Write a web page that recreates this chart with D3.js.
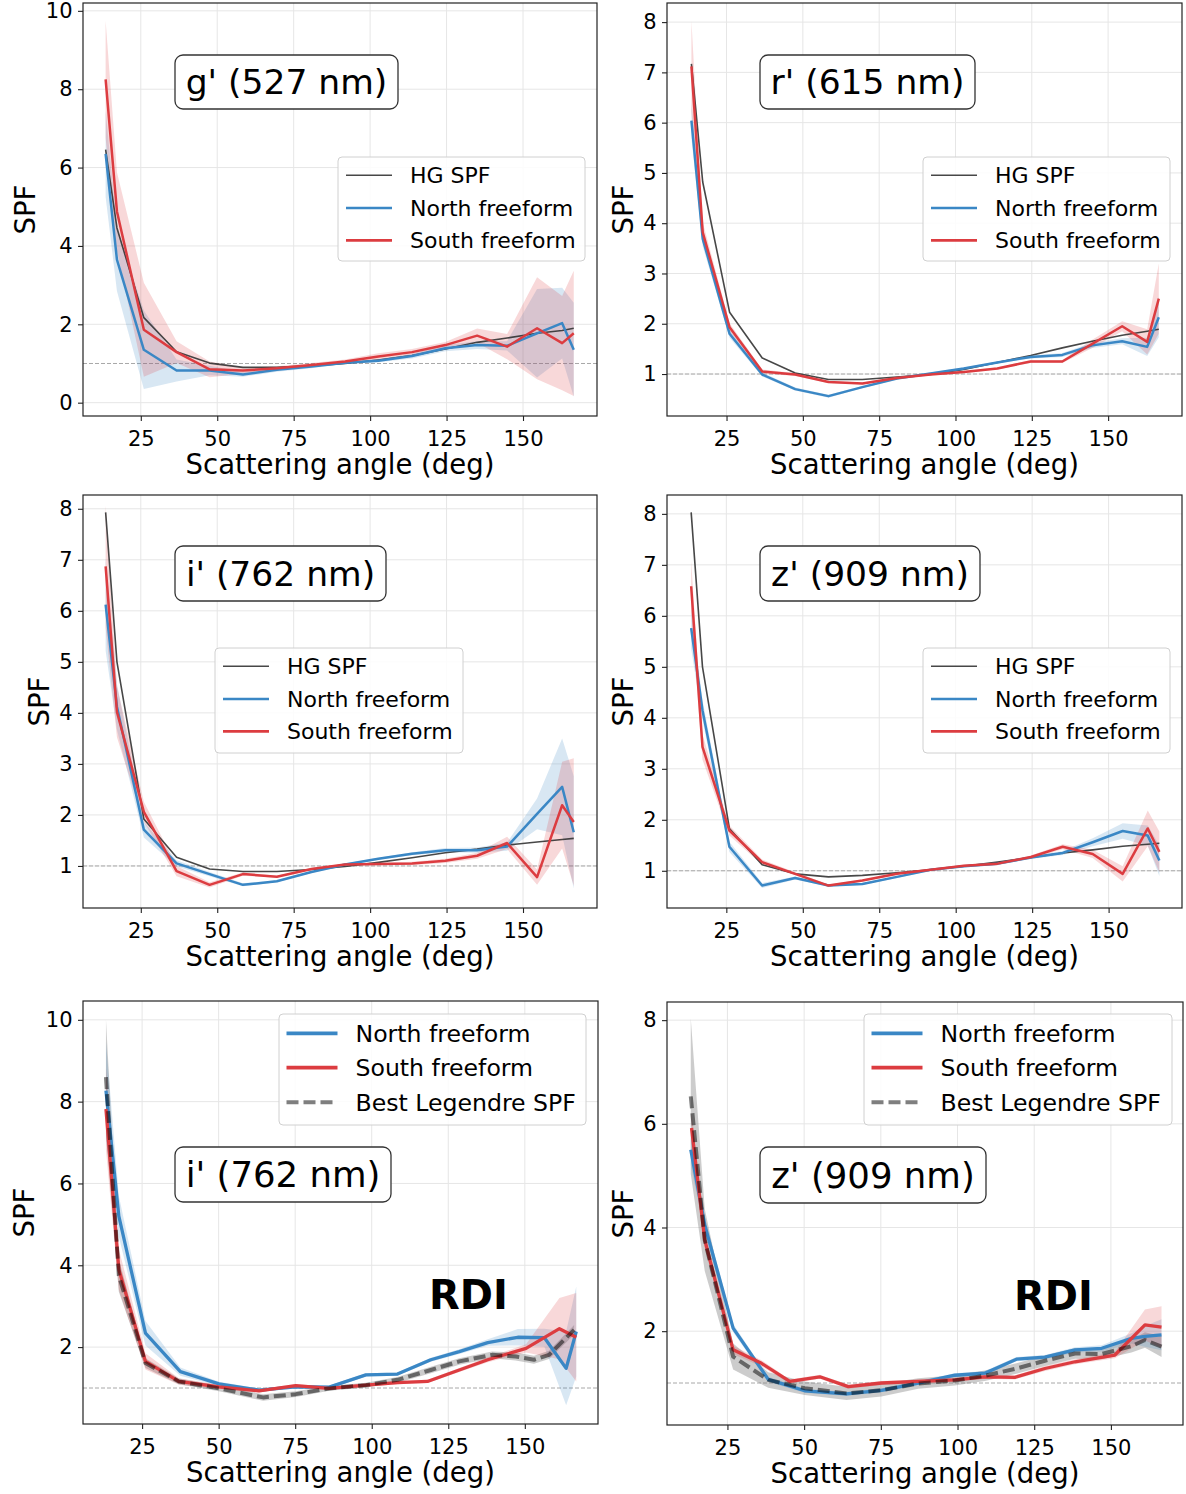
<!DOCTYPE html>
<html><head><meta charset="utf-8">
<script src="https://cdn.jsdelivr.net/npm/d3@7"></script>
<style>body{margin:0;background:#fff;} text{font-family:"DejaVu Sans",sans-serif;fill:#000;}</style>
</head><body><svg id="c" width="1186" height="1494"></svg>
<script>
// ---------------- DATA ----------------
const xTickValues = [25, 50, 75, 100, 125, 150];
const yTicksA = [0, 2, 4, 6, 8, 10];
const yTicksB = [1, 2, 3, 4, 5, 6, 7, 8];
const yTicksC = [2, 4, 6, 8, 10];
const yTicksD = [2, 4, 6, 8];

// scattering angles of the freeform bins (top four panels)
const anglesTop = [13.5, 17.2, 26, 36.7, 47.5, 58.4, 69.5, 80.8, 91.8, 102.7, 113.7, 124.6, 135, 144.8, 154.6, 162.8, 166.6];

// g' (527 nm)
const gHG        = [6.46, 4.46, 2.17, 1.30, 1.01, 0.90, 0.90, 0.94, 1.00, 1.09, 1.20, 1.37, 1.54, 1.65, 1.77, 1.84, 1.90];
const gNorth     = [6.35, 3.65, 1.35, 0.82, 0.82, 0.72, 0.84, 0.92, 1.02, 1.07, 1.19, 1.39, 1.47, 1.45, 1.77, 2.03, 1.35];
const gNorthErr  = [1.10, 0.80, 1.00, 0.28, 0.12, 0.06, 0.05, 0.04, 0.03, 0.04, 0.06, 0.08, 0.10, 0.12, 1.13, 0.90, 1.20];
const gSouth     = [8.25, 4.88, 1.86, 1.29, 0.85, 0.82, 0.88, 0.96, 1.05, 1.18, 1.29, 1.47, 1.71, 1.43, 1.90, 1.52, 1.77];
const gSouthErr  = [1.50, 1.00, 1.20, 0.28, 0.20, 0.08, 0.05, 0.05, 0.05, 0.08, 0.08, 0.08, 0.18, 0.32, 1.30, 1.20, 1.60];

// r' (615 nm)
const rHG        = [7.17, 4.82, 2.23, 1.32, 1.02, 0.89, 0.89, 0.94, 0.99, 1.09, 1.23, 1.37, 1.52, 1.65, 1.77, 1.85, 1.89];
const rNorth     = [6.04, 3.69, 1.80, 0.99, 0.70, 0.56, 0.74, 0.91, 1.01, 1.11, 1.23, 1.34, 1.38, 1.57, 1.65, 1.54, 2.13];
const rNorthErr  = [0.35, 0.15, 0.08, 0.04, 0.03, 0.03, 0.02, 0.02, 0.02, 0.02, 0.02, 0.03, 0.04, 0.05, 0.06, 0.18, 0.40];
const rSouth     = [7.12, 3.82, 1.93, 1.05, 0.99, 0.84, 0.81, 0.92, 0.99, 1.04, 1.11, 1.25, 1.25, 1.60, 1.95, 1.64, 2.50];
const rSouthErr  = [0.90, 0.20, 0.08, 0.04, 0.03, 0.02, 0.02, 0.02, 0.02, 0.02, 0.02, 0.03, 0.03, 0.08, 0.10, 0.25, 0.70];

// i' (762 nm)
const iHG        = [7.93, 5.00, 1.92, 1.17, 0.94, 0.89, 0.89, 0.93, 0.99, 1.07, 1.16, 1.26, 1.33, 1.41, 1.47, 1.52, 1.54];
const iNorth     = [6.12, 4.12, 1.71, 1.05, 0.84, 0.63, 0.70, 0.88, 1.03, 1.14, 1.24, 1.31, 1.31, 1.38, 2.02, 2.55, 1.66];
const iNorthErr  = [0.90, 0.45, 0.15, 0.06, 0.04, 0.03, 0.02, 0.02, 0.02, 0.02, 0.03, 0.04, 0.05, 0.08, 0.30, 0.95, 1.10];
const iSouth     = [6.87, 4.02, 2.06, 0.90, 0.63, 0.84, 0.79, 0.94, 1.03, 1.04, 1.05, 1.10, 1.20, 1.45, 0.78, 2.19, 1.86];
const iSouthErr  = [1.20, 0.50, 0.20, 0.10, 0.05, 0.03, 0.02, 0.02, 0.02, 0.02, 0.03, 0.04, 0.06, 0.12, 0.15, 0.85, 1.25];

// z' (909 nm)
const zHG        = [8.03, 5.00, 1.83, 1.12, 0.94, 0.88, 0.91, 0.96, 1.02, 1.09, 1.17, 1.26, 1.35, 1.41, 1.48, 1.52, 1.54];
const zNorth     = [5.76, 4.15, 1.47, 0.71, 0.86, 0.71, 0.74, 0.88, 1.02, 1.09, 1.14, 1.26, 1.35, 1.56, 1.78, 1.69, 1.20];
const zNorthErr  = [0.40, 0.20, 0.10, 0.05, 0.03, 0.02, 0.02, 0.02, 0.02, 0.02, 0.02, 0.03, 0.04, 0.08, 0.15, 0.20, 0.30];
const zSouth     = [6.58, 3.43, 1.79, 1.17, 0.94, 0.71, 0.81, 0.94, 1.02, 1.10, 1.14, 1.27, 1.47, 1.33, 0.94, 1.83, 1.37];
const zSouthErr  = [0.50, 0.25, 0.10, 0.05, 0.03, 0.02, 0.02, 0.02, 0.02, 0.02, 0.03, 0.03, 0.05, 0.08, 0.15, 0.35, 0.40];

// RDI i' (762 nm)
const rdiINorthAngles = [13.2, 17.4, 26.1, 37.5, 50.1, 63.2, 75.2, 86.1, 98.1, 108.4, 119.3, 128.6, 137.9, 147.7, 156.4, 163.5, 166.8];
const rdiINorth       = [8.27, 5.20, 2.34, 1.40, 1.10, 0.95, 1.03, 1.02, 1.32, 1.34, 1.69, 1.89, 2.11, 2.24, 2.23, 1.48, 2.38];
const rdiINorthErr    = [1.20, 0.50, 0.30, 0.10, 0.05, 0.04, 0.04, 0.04, 0.04, 0.04, 0.05, 0.06, 0.08, 0.20, 0.22, 0.90, 1.10];
const rdiISouthAngles = [13.2, 17.4, 26.1, 37.0, 50.1, 63.2, 75.2, 86.1, 98.1, 108.4, 118.2, 128.6, 137.9, 150.4, 161.3, 166.8];
const rdiISouth       = [7.82, 3.90, 1.65, 1.16, 1.03, 0.93, 1.06, 0.99, 1.07, 1.13, 1.16, 1.44, 1.69, 1.97, 2.45, 2.24];
const rdiISouthErr    = [1.00, 0.50, 0.20, 0.08, 0.05, 0.04, 0.04, 0.04, 0.04, 0.04, 0.04, 0.05, 0.06, 0.10, 0.75, 1.08];
const rdiILegAngles   = [13.2, 17.4, 26.1, 37.0, 50.1, 64.5, 75.2, 86.1, 98.1, 108.4, 119.3, 128.6, 139.3, 147.0, 153.0, 157.9, 166.1];
const rdiILegendre    = [8.60, 3.75, 1.61, 1.16, 0.99, 0.77, 0.85, 0.99, 1.07, 1.20, 1.44, 1.65, 1.81, 1.77, 1.69, 1.81, 2.42];
const rdiILegErr      = [1.40, 0.40, 0.12, 0.07, 0.07, 0.08, 0.07, 0.06, 0.06, 0.07, 0.08, 0.08, 0.08, 0.10, 0.10, 0.10, 0.12];

// RDI z' (909 nm)
const rdiZNorthAngles = [13.05, 17.6, 26.85, 38.3, 50.2, 63.8, 75.2, 87.2, 99.1, 108.9, 119.2, 128.5, 138.3, 147.0, 156.7, 161.1, 166.5];
const rdiZNorth       = [5.50, 4.05, 2.06, 1.07, 0.85, 0.79, 0.86, 1.00, 1.15, 1.19, 1.46, 1.50, 1.64, 1.67, 1.86, 1.90, 1.93];
const rdiZNorthErr    = [0.30, 0.15, 0.08, 0.05, 0.04, 0.04, 0.04, 0.04, 0.04, 0.04, 0.04, 0.04, 0.05, 0.06, 0.10, 0.20, 0.30];
const rdiZSouthAngles = [13.3, 17.6, 26.85, 36.1, 45.3, 55.1, 64.4, 75.2, 87.2, 99.1, 108.9, 118.7, 128.5, 138.3, 151.3, 161.1, 166.5];
const rdiZSouth       = [5.92, 3.76, 1.64, 1.38, 1.03, 1.12, 0.93, 1.00, 1.03, 1.06, 1.12, 1.11, 1.28, 1.41, 1.54, 2.12, 2.08];
const rdiZSouthErr    = [0.30, 0.15, 0.08, 0.06, 0.04, 0.04, 0.04, 0.04, 0.04, 0.04, 0.04, 0.04, 0.05, 0.05, 0.06, 0.30, 0.40];
const rdiZLegAngles   = [13.05, 17.6, 26.85, 38.3, 50.2, 63.8, 75.2, 87.2, 99.1, 108.9, 119.2, 128.5, 138.3, 147.0, 156.7, 161.1, 166.5];
const rdiZLegendre    = [6.53, 3.76, 1.51, 1.06, 0.90, 0.80, 0.86, 0.99, 1.05, 1.14, 1.28, 1.43, 1.57, 1.56, 1.71, 1.83, 1.70];
const rdiZLegErr      = [1.50, 0.60, 0.25, 0.15, 0.13, 0.13, 0.12, 0.10, 0.10, 0.10, 0.10, 0.10, 0.10, 0.10, 0.12, 0.15, 0.20];

const labelsTop = ["HG SPF", "North freeform", "South freeform"];
const labelsBottom = ["North freeform", "South freeform", "Best Legendre SPF"];

// ---------------- STYLE ----------------
const BLUE = "#3a87c5", RED = "#dc3c40";
const typeStyle = {
  hg:       {stroke: "#333", width: 1.6, opacity: 0.9, dash: null, band: null},
  north:    {stroke: BLUE, width: 2.5, opacity: 1, dash: null, band: BLUE, bandOp: 0.2},
  south:    {stroke: RED, width: 2.5, opacity: 1, dash: null, band: RED, bandOp: 0.2},
  legendre: {stroke: "#000", width: 4, opacity: 0.5, dash: "12,5", band: "#808080", bandOp: 0.4}
};

function S(type, x, y, err) { return {type, x, y, err}; }

const panels = [
  {x0: 83, y0: 3, x1: 597, y1: 416, xd: [6.1, 174.2], yd: [-0.34, 10.2], yTicks: yTicksA, ylabX: 35, wide: false,
   box: {x: 175, y: 55, w: 223, h: 54, text: "g' (527 nm)", fs: 34.5},
   legend: {x: 338, y: 157, w: 247, h: 104, labels: labelsTop, types: ["hg","north","south"]},
   series: [S("north", anglesTop, gNorth, gNorthErr), S("south", anglesTop, gSouth, gSouthErr), S("hg", anglesTop, gHG)]},
  {x0: 667, y0: 3, x1: 1182, y1: 416, xd: [5.5, 174.2], yd: [0.165, 8.38], yTicks: yTicksB, ylabX: 633, wide: false,
   box: {x: 760, y: 55, w: 215, h: 54, text: "r' (615 nm)", fs: 34.5},
   legend: {x: 923, y: 157, w: 247, h: 104, labels: labelsTop, types: ["hg","north","south"]},
   series: [S("north", anglesTop, rNorth, rNorthErr), S("south", anglesTop, rSouth, rSouthErr), S("hg", anglesTop, rHG)]},
  {x0: 83, y0: 495, x1: 597, y1: 908, xd: [6.1, 174.2], yd: [0.176, 8.27], yTicks: yTicksB, ylabX: 49, wide: false,
   box: {x: 175, y: 546, w: 211, h: 55, text: "i' (762 nm)", fs: 34.5},
   legend: {x: 215, y: 648, w: 248, h: 105, labels: labelsTop, types: ["hg","north","south"]},
   series: [S("north", anglesTop, iNorth, iNorthErr), S("south", anglesTop, iSouth, iSouthErr), S("hg", anglesTop, iHG)]},
  {x0: 667, y0: 495, x1: 1182, y1: 908, xd: [5.6, 174.0], yd: [0.27, 8.37], yTicks: yTicksB, ylabX: 633, wide: false,
   box: {x: 760, y: 546, w: 220, h: 55, text: "z' (909 nm)", fs: 34.5},
   legend: {x: 923, y: 648, w: 247, h: 105, labels: labelsTop, types: ["hg","north","south"]},
   series: [S("north", anglesTop, zNorth, zNorthErr), S("south", anglesTop, zSouth, zSouthErr), S("hg", anglesTop, zHG)]},
  {x0: 83, y0: 1001, x1: 598, y1: 1424, xd: [5.7, 173.9], yd: [0.12, 10.46], yTicks: yTicksC, ylabX: 34, wide: true,
   box: {x: 175, y: 1147, w: 216, h: 55, text: "i' (762 nm)", fs: 35.5},
   rdi: {x: 429, y: 1309},
   legend: {x: 279, y: 1014, w: 307, h: 111, labels: labelsBottom, types: ["north","south","legendre"]},
   series: [S("legendre", rdiILegAngles, rdiILegendre, rdiILegErr), S("north", rdiINorthAngles, rdiINorth, rdiINorthErr),
            S("south", rdiISouthAngles, rdiISouth, rdiISouthErr)]},
  {x0: 667, y0: 1002, x1: 1183, y1: 1425, xd: [5.3, 173.5], yd: [0.19, 8.35], yTicks: yTicksD, ylabX: 633, wide: true,
   box: {x: 760, y: 1147, w: 226, h: 56, text: "z' (909 nm)", fs: 35.5},
   rdi: {x: 1014, y: 1310},
   legend: {x: 864, y: 1014, w: 308, h: 111, labels: labelsBottom, types: ["north","south","legendre"]},
   series: [S("legendre", rdiZLegAngles, rdiZLegendre, rdiZLegErr), S("north", rdiZNorthAngles, rdiZNorth, rdiZNorthErr),
            S("south", rdiZSouthAngles, rdiZSouth, rdiZSouthErr)]}
];

// ---------------- DRAW ----------------
const svg = d3.select("#c");
const defs = svg.append("defs");

function lineWidth(type, wide) {
  const st = typeStyle[type];
  if (wide && (type === "north" || type === "south")) return 3.3;
  return st.width;
}

panels.forEach((p, i) => {
  const x = d3.scaleLinear().domain(p.xd).range([p.x0, p.x1]);
  const y = d3.scaleLinear().domain(p.yd).range([p.y1, p.y0]);
  const g = svg.append("g");
  const cid = "clip" + i;
  defs.append("clipPath").attr("id", cid).append("rect")
    .attr("x", p.x0).attr("y", p.y0).attr("width", p.x1 - p.x0).attr("height", p.y1 - p.y0);

  // grid
  const grid = g.append("g").attr("stroke", "#e6e6e6").attr("stroke-width", 1);
  xTickValues.forEach(t => grid.append("line").attr("x1", x(t)).attr("x2", x(t)).attr("y1", p.y0).attr("y2", p.y1));
  p.yTicks.forEach(t => grid.append("line").attr("x1", p.x0).attr("x2", p.x1).attr("y1", y(t)).attr("y2", y(t)));

  // reference y = 1
  g.append("line").attr("x1", p.x0).attr("x2", p.x1).attr("y1", y(1)).attr("y2", y(1))
    .attr("stroke", "#a8a8a8").attr("stroke-width", 1).attr("stroke-dasharray", "4,2");

  const plot = g.append("g").attr("clip-path", `url(#${cid})`);

  // bands
  p.series.forEach(s => {
    const st = typeStyle[s.type];
    if (!s.err || !st.band) return;
    const pts = s.x.map((a, k) => [a, s.y[k], s.err[k]]);
    const area = d3.area().x(d => x(d[0])).y0(d => y(d[1] - d[2])).y1(d => y(d[1] + d[2]));
    plot.append("path").attr("d", area(pts)).attr("fill", st.band).attr("fill-opacity", st.bandOp).attr("stroke", "none");
  });
  // lines (HG / north / south first, legendre on top)
  const order = ["hg", "north", "south", "legendre"];
  order.forEach(tp => {
    p.series.filter(s => s.type === tp).forEach(s => {
      const st = typeStyle[s.type];
      const pts = s.x.map((a, k) => [a, s.y[k]]);
      const line = d3.line().x(d => x(d[0])).y(d => y(d[1]));
      plot.append("path").attr("d", line(pts)).attr("fill", "none")
        .attr("stroke", st.stroke).attr("stroke-opacity", st.opacity)
        .attr("stroke-width", lineWidth(s.type, p.wide))
        .attr("stroke-dasharray", st.dash).attr("stroke-linejoin", "round");
    });
  });

  // axes
  const ax = g.append("g").attr("transform", `translate(0,${p.y1})`)
    .call(d3.axisBottom(x).tickValues(xTickValues).tickSize(5).tickPadding(10).tickFormat(d3.format("d")));
  const ay = g.append("g").attr("transform", `translate(${p.x0},0)`)
    .call(d3.axisLeft(y).tickValues(p.yTicks).tickSize(5).tickPadding(5.5).tickFormat(d3.format("d")));
  [ax, ay].forEach(a => {
    a.select(".domain").remove();
    a.selectAll(".tick line").attr("stroke", "#222").attr("stroke-width", 1.1);
    a.selectAll(".tick text").attr("font-size", "21px").attr("fill", "#000")
      .attr("font-family", '"DejaVu Sans", sans-serif');
  });

  // frame
  g.append("rect").attr("x", p.x0).attr("y", p.y0).attr("width", p.x1 - p.x0).attr("height", p.y1 - p.y0)
    .attr("fill", "none").attr("stroke", "#222").attr("stroke-width", 1.2);

  // axis labels
  g.append("text").attr("x", (p.x0 + p.x1) / 2).attr("y", p.y1 + 58).attr("text-anchor", "middle")
    .attr("font-size", "27.5px").text("Scattering angle (deg)");
  g.append("text").attr("transform", `translate(${p.ylabX},${(p.y0 + p.y1) / 2}) rotate(-90)`)
    .attr("text-anchor", "middle").attr("font-size", "27.5px").text("SPF");

  // annotation box
  const b = p.box;
  g.append("rect").attr("x", b.x).attr("y", b.y).attr("width", b.w).attr("height", b.h)
    .attr("rx", 8).attr("ry", 8).attr("fill", "#fff").attr("stroke", "#333").attr("stroke-width", 1.3);
  g.append("text").attr("x", b.x + b.w / 2).attr("y", b.y + b.h / 2 + b.fs * 0.36)
    .attr("text-anchor", "middle").attr("font-size", b.fs + "px").text(b.text);

  // RDI tag
  if (p.rdi) {
    g.append("text").attr("x", p.rdi.x).attr("y", p.rdi.y).attr("font-size", "40px")
      .attr("font-weight", "bold").text("RDI");
  }

  // legend
  const L = p.legend;
  const lg = g.append("g");
  lg.append("rect").attr("x", L.x).attr("y", L.y).attr("width", L.w).attr("height", L.h)
    .attr("rx", 4).attr("ry", 4).attr("fill", "#fff").attr("fill-opacity", 0.85)
    .attr("stroke", "#d0d0d0").attr("stroke-width", 1);
  const rows = p.wide ? [19.3, 53.7, 88.3] : [18.3, 51, 83.3];
  const hx0 = p.wide ? 7.5 : 8, hx1 = p.wide ? 58.5 : 54, tx = p.wide ? 76.5 : 72;
  const lfs = p.wide ? 23.6 : 22;
  L.labels.forEach((lab, k) => {
    const tp = L.types[k];
    const st = typeStyle[tp];
    const yy = L.y + rows[k];
    lg.append("line").attr("x1", L.x + hx0).attr("x2", L.x + hx1).attr("y1", yy).attr("y2", yy)
      .attr("stroke", st.stroke).attr("stroke-opacity", st.opacity)
      .attr("stroke-width", p.wide ? (tp === "legendre" ? 4 : 3.8) : (tp === "hg" ? 1.6 : 2.7))
      .attr("stroke-dasharray", tp === "legendre" ? "12,5" : null);
    lg.append("text").attr("x", L.x + tx).attr("y", yy + lfs * 0.36).attr("font-size", lfs + "px").text(lab);
  });
});
</script>
</body></html>
